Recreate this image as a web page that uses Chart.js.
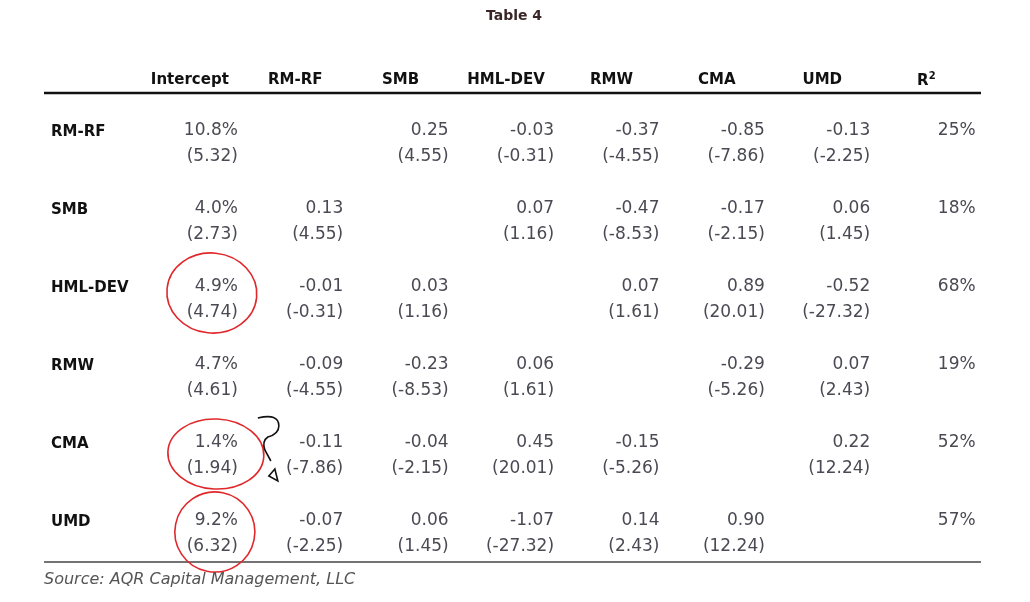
<!DOCTYPE html>
<html>
<head>
<meta charset="utf-8">
<script src="https://cdn.jsdelivr.net/npm/chart.js@4.4.0/dist/chart.umd.min.js"></script>
<style>
  html, body { margin: 0; padding: 0; background: #fff; }
  canvas { display: block; }
</style>
</head>
<body>
<canvas id="table4" width="1030" height="602"></canvas>
<script>
// table content
const title = "Table 4";
const source = "Source: AQR Capital Management, LLC";
const columns = ["Intercept", "RM-RF", "SMB", "HML-DEV", "RMW", "CMA", "UMD", "R²"];
const factors = ["RM-RF", "SMB", "HML-DEV", "RMW", "CMA", "UMD"];

// intercept (annual %) and its t-stat, one per row
const intercept = [10.8, 4.0, 4.9, 4.7, 1.4, 9.2];
const interceptT = [5.32, 2.73, 4.74, 4.61, 1.94, 6.32];

// betas on the other factors (row = dependent factor, col = factor), null on the diagonal
const betas = [
  [null, 0.25, -0.03, -0.37, -0.85, -0.13],
  [0.13, null, 0.07, -0.47, -0.17, 0.06],
  [-0.01, 0.03, null, 0.07, 0.89, -0.52],
  [-0.09, -0.23, 0.06, null, -0.29, 0.07],
  [-0.11, -0.04, 0.45, -0.15, null, 0.22],
  [-0.07, 0.06, -1.07, 0.14, 0.90, null],
];
const betaT = [
  [null, 4.55, -0.31, -4.55, -7.86, -2.25],
  [4.55, null, 1.16, -8.53, -2.15, 1.45],
  [-0.31, 1.16, null, 1.61, 20.01, -27.32],
  [-4.55, -8.53, 1.61, null, -5.26, 2.43],
  [-7.86, -2.15, 20.01, -5.26, null, 12.24],
  [-2.25, 1.45, -27.32, 2.43, 12.24, null],
];
const r2 = [25, 18, 68, 19, 52, 57];

// intercepts circled in red on the original
const circled = ["HML-DEV", "CMA", "UMD"];

// layout (pixels)
const layout = {
  headY: 80, headOffset: 48, labelX: 51, tGap: 26,
  ruleLeft: 44, ruleRight: 981, topRule: 93, bottomRule: 562,
  titleY: 16, sourceY: 580,
};
const circleShapes = {
  "HML-DEV": { dx: -26, dy: 6, rx: 45, ry: 40, rot: 0.1 },
  "CMA": { dx: -22, dy: 11, rx: 48, ry: 35, rot: 0.05 },
  "UMD": { dx: -23, dy: 11, rx: 40, ry: 40, rot: 0.2 },
};

const fmt = (v, d) => v.toFixed(d);

// one point per cell; x = column index, y = row index
const cells = [];
factors.forEach((f, r) => {
  cells.push({ x: 0, y: r, coef: fmt(intercept[r], 1) + "%", t: "(" + fmt(interceptT[r], 2) + ")" });
  betas[r].forEach((b, c) => {
    if (b === null) return;
    cells.push({ x: c + 1, y: r, coef: fmt(b, 2), t: "(" + fmt(betaT[r][c], 2) + ")" });
  });
  cells.push({ x: 7, y: r, coef: r2[r] + "%", t: "" });
});

const FONT = '"DejaVu Sans", sans-serif';

const tablePlugin = {
  id: "tableText",
  beforeDraw(chart) {
    const ctx = chart.ctx;
    ctx.save();
    ctx.fillStyle = "#fff";
    ctx.fillRect(0, 0, chart.width, chart.height);
    ctx.restore();
  },
  afterDatasetsDraw(chart) {
    const ctx = chart.ctx;
    const xs = chart.scales.x, ys = chart.scales.y;
    ctx.save();

    // title
    ctx.fillStyle = "#3b2626";
    ctx.font = "bold 14px " + FONT;
    ctx.textAlign = "center";
    ctx.textBaseline = "middle";
    ctx.fillText(title, 514, layout.titleY);

    // header row
    ctx.fillStyle = "#111";
    columns.forEach((c, i) => {
      const cx = xs.getPixelForValue(i) - layout.headOffset;
      if (c === "R²") {
        ctx.font = "bold 15px " + FONT;
        ctx.textAlign = "right";
        ctx.fillText("R", cx + 1, layout.headY + 1);
        ctx.font = "bold 10px " + FONT;
        ctx.textAlign = "left";
        ctx.fillText("2", cx + 1, layout.headY - 4);
      } else {
        ctx.font = "bold 15px " + FONT;
        ctx.textAlign = "center";
        ctx.fillText(c, cx, layout.headY);
      }
    });

    // rules
    ctx.strokeStyle = "#111";
    ctx.lineWidth = 2.5;
    ctx.beginPath();
    ctx.moveTo(layout.ruleLeft, layout.topRule);
    ctx.lineTo(layout.ruleRight, layout.topRule);
    ctx.stroke();
    ctx.strokeStyle = "#444";
    ctx.lineWidth = 1.5;
    ctx.beginPath();
    ctx.moveTo(layout.ruleLeft, layout.bottomRule);
    ctx.lineTo(layout.ruleRight, layout.bottomRule);
    ctx.stroke();

    // row labels
    ctx.fillStyle = "#111";
    ctx.font = "bold 15px " + FONT;
    ctx.textAlign = "left";
    factors.forEach((f, r) => {
      ctx.fillText(f, layout.labelX, ys.getPixelForValue(r) + 1);
    });

    // cells
    const meta = chart.getDatasetMeta(0);
    const data = chart.data.datasets[0].data;
    ctx.fillStyle = "#4a4a54";
    ctx.font = "17px " + FONT;
    ctx.textAlign = "right";
    meta.data.forEach((pt, i) => {
      ctx.fillText(data[i].coef, pt.x, pt.y);
      if (data[i].t) ctx.fillText(data[i].t, pt.x, pt.y + layout.tGap);
    });

    // red circles round some intercepts
    ctx.strokeStyle = "#e0282c";
    ctx.lineWidth = 1.6;
    circled.forEach(f => {
      const r = factors.indexOf(f);
      const s = circleShapes[f];
      const cx = xs.getPixelForValue(0) + s.dx;
      const cy = ys.getPixelForValue(r) + s.dy;
      ctx.beginPath();
      ctx.ellipse(cx, cy, s.rx, s.ry, s.rot, 0, Math.PI * 2);
      ctx.stroke();
    });

    // hand drawn squiggle next to CMA intercept
    const ax = xs.getPixelForValue(0), ay = ys.getPixelForValue(factors.indexOf("CMA"));
    ctx.strokeStyle = "#111";
    ctx.lineWidth = 1.6;
    ctx.beginPath();
    ctx.moveTo(ax + 20, ay - 25);
    ctx.quadraticCurveTo(ax + 41, ay - 30, ax + 41, ay - 17);
    ctx.quadraticCurveTo(ax + 41, ay - 9, ax + 30, ay - 6);
    ctx.quadraticCurveTo(ax + 24, ay - 2, ax + 27, ay + 7);
    ctx.lineTo(ax + 33, ay + 18);
    ctx.stroke();
    ctx.beginPath();
    ctx.moveTo(ax + 37, ay + 26);
    ctx.lineTo(ax + 31, ay + 33);
    ctx.lineTo(ax + 40, ay + 38);
    ctx.closePath();
    ctx.stroke();

    // source
    ctx.fillStyle = "#555";
    ctx.font = "italic 16px " + FONT;
    ctx.textAlign = "left";
    ctx.fillText(source, layout.ruleLeft, layout.sourceY);

    ctx.restore();
  }
};

new Chart(document.getElementById("table4").getContext("2d"), {
  type: "scatter",
  data: {
    datasets: [{ label: "cells", data: cells, pointRadius: 0, pointHoverRadius: 0 }],
  },
  options: {
    responsive: false,
    animation: false,
    events: [],
    layout: { padding: 0 },
    plugins: { legend: { display: false }, tooltip: { enabled: false } },
    scales: {
      // 105.4 px per column, column 0 right edge at 238 px
      x: { type: "linear", display: false, min: -2.2566, max: 7.5157 },
      // 78 px per row, first row at 131 px
      y: { type: "linear", display: false, reverse: true, min: -1.6795, max: 6.0385 },
    },
  },
  plugins: [tablePlugin],
});
</script>
</body>
</html>
